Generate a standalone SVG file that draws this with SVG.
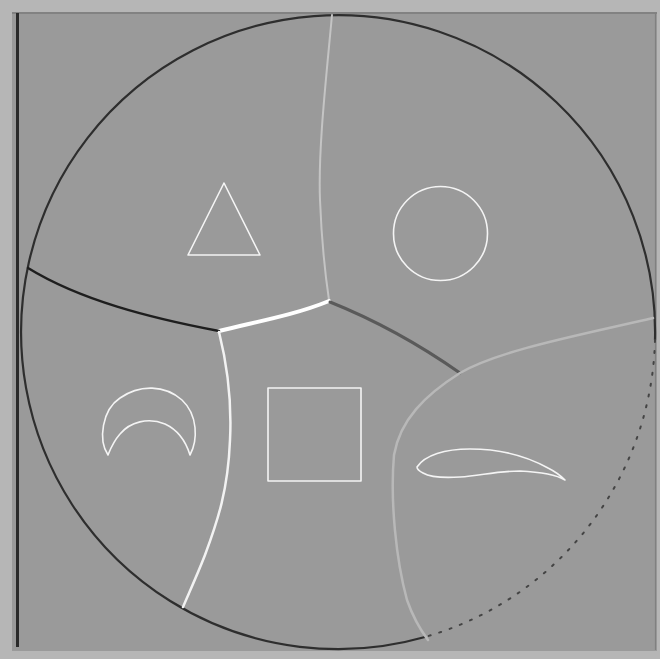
<svg xmlns="http://www.w3.org/2000/svg" width="660" height="659" viewBox="0 0 660 659">
<style>
.shape{fill:none;stroke:#f4f4f4;stroke-width:1.6;stroke-linejoin:round}
.b{fill:none;stroke-linecap:round;stroke-linejoin:round}
</style>
<rect x="0" y="0" width="660" height="659" fill="#b6b6b6"/>
<rect x="12" y="12" width="645" height="639" fill="#9a9a9a"/>
<line x1="12" y1="13" x2="657" y2="13" stroke="#7a7a7a" stroke-width="1.5"/>
<line x1="17.5" y1="13" x2="17.5" y2="647" stroke="#2a2a2a" stroke-width="3"/>
<line x1="655.5" y1="13" x2="655.5" y2="650" stroke="#808080" stroke-width="1.2"/>
<g id="outline">
<path class="b" d="M 425 637 A 317 317 0 1 1 655 340" stroke="#2e2e2e" stroke-width="2.2"/>
<path class="b" d="M 655 340 A 317 317 0 0 1 425 637" stroke="#444" stroke-width="2" stroke-dasharray="2 9"/>
</g>
<g id="connectors">
<path class="b" d="M 332 15 C 326 80 318 150 320 200 C 322 250 326 280 329 300" stroke="#c4c4c4" stroke-width="2"/>
<path class="b" d="M 329 301 C 295 315 255 322 219 331" stroke="#ffffff" stroke-width="4"/>
<path class="b" d="M 219 331 C 150 318 80 300 28 268" stroke="#1e1e1e" stroke-width="2.5"/>
<path class="b" d="M 330 302 C 375 320 420 345 460 373" stroke="#5a5a5a" stroke-width="3"/>
<path class="b" d="M 653 318 C 580 335 500 350 460 373 C 425 395 400 420 394 455 C 390 500 396 560 407 600 C 414 620 422 632 428 640" stroke="#b8b8b8" stroke-width="2.5"/>
<path class="b" d="M 219 332 C 226 360 232 400 230 440 C 228 490 218 520 205 555 C 196 578 188 595 183 607" stroke="#f2f2f2" stroke-width="2.5"/>
</g>
<g id="triangle"><polygon class="shape" points="224,183 188,255 260,255"/></g>
<g id="circle"><circle class="shape" cx="440.5" cy="233.5" r="47"/></g>
<g id="square"><rect class="shape" x="268" y="388" width="93" height="93"/></g>
<g id="crescent"><path class="shape" d="M 108 455 C 98 440 102 410 120 398 C 140 384 165 385 182 400 C 198 415 198 440 190 455 C 186 442 178 430 165 424 C 148 417 130 422 120 434 C 113 442 110 450 108 455 Z"/></g>
<g id="leaf"><path class="shape" d="M 417 467 C 425 455 445 449 470 449 C 505 449 530 458 548 468 C 556 472 561 476 565 480 C 555 474 540 472 520 471 C 495 471 480 476 460 477 C 445 478 430 477 423 473 C 419 471 417 469 417 467 Z"/></g>
</svg>
